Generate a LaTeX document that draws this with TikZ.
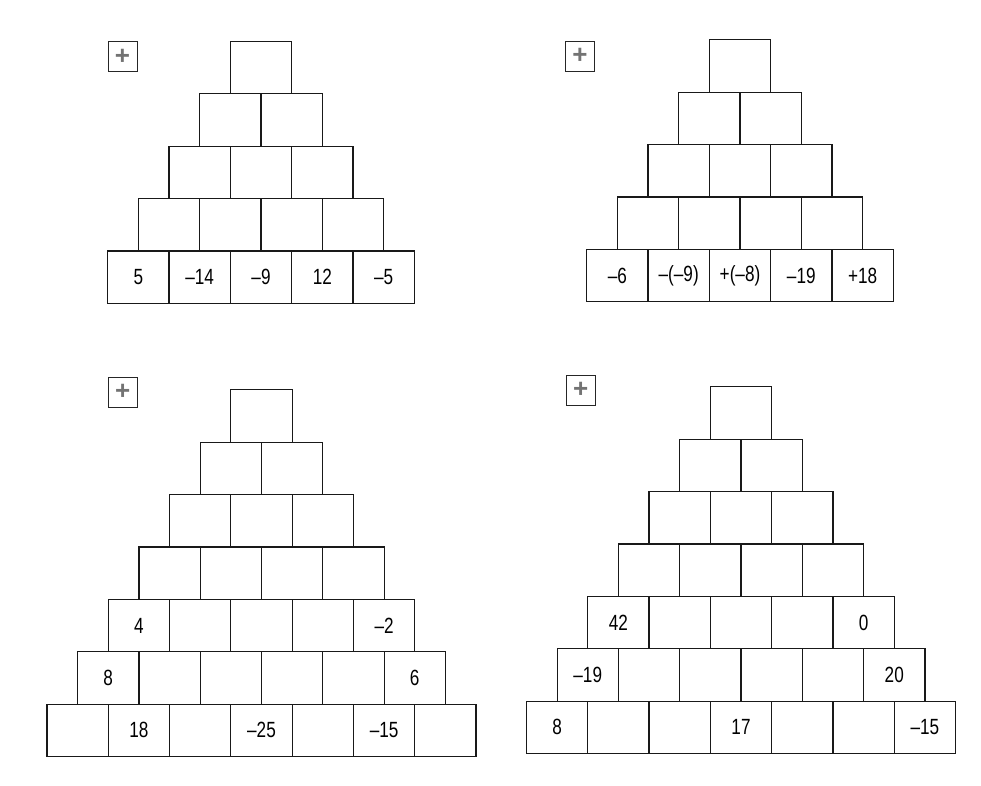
\documentclass[tikz,border=0pt]{standalone}
\usepackage{fontspec}
\setmainfont{Liberation Sans}[FakeStretch=0.78]
\newfontfamily\plusfont{Liberation Sans}
\newcommand\lab[2]{\expandafter\def\csname lab@#1\endcsname{#2}}
\newcommand\getlab[1]{\ifcsname lab@#1\endcsname\csname lab@#1\endcsname\fi}
% pyramid: #1 name, #2 centre x, #3 bottom y, #4 rows
\newcommand\pyr[4]{%
  \foreach \rr in {0,...,\numexpr#4-1\relax}{%
    \pgfmathtruncatemacro\ncols{#4-\rr-1}%
    \foreach \cc in {0,...,\ncols}{%
      \pgfmathsetmacro\xx{#2+(\cc-\ncols/2)*61.3}%
      \pgfmathsetmacro\yy{#3-(\rr+0.5)*52.4}%
      \node[cell] (#1-\rr-\cc) at (\xx,\yy) {\getlab{#1-\rr-\cc}};
    }%
  }%
}
\lab{A-0-0}{5}\lab{A-0-1}{–14}\lab{A-0-2}{–9}\lab{A-0-3}{12}\lab{A-0-4}{–5}
\lab{B-0-0}{–6}\lab{B-0-1}{–(–9)}\lab{B-0-2}{+(–8)}\lab{B-0-3}{–19}\lab{B-0-4}{+18}
\lab{C-0-1}{18}\lab{C-0-3}{–25}\lab{C-0-5}{–15}
\lab{C-1-0}{8}\lab{C-1-5}{6}
\lab{C-2-0}{4}\lab{C-2-4}{–2}
\lab{D-0-0}{8}\lab{D-0-3}{17}\lab{D-0-6}{–15}
\lab{D-1-0}{–19}\lab{D-1-5}{20}
\lab{D-2-0}{42}\lab{D-2-4}{0}
\begin{document}
\begin{tikzpicture}[x=1pt,y=-1pt,
  cell/.style={draw=black!90, line width=1.2pt, minimum width=61.3pt, minimum height=52.4pt,
    inner sep=0pt, anchor=center, font=\fontsize{22}{22}\selectfont},
  opbox/.style={draw=black!85, line width=1pt, minimum width=29pt, minimum height=30pt,
    inner sep=0pt, font=\plusfont\fontsize{26}{26}\selectfont\bfseries, text=black!55}]
\fill[white] (0,0) rectangle (981,785);
\useasboundingbox (0,0) rectangle (981,785);
\pyr{A}{261}{303.3}{5}
\pyr{B}{740}{301.7}{5}
\pyr{C}{261.5}{756.5}{7}
\pyr{D}{741}{753.5}{7}
\node[opbox] (opA) at (122.5,56.7) {+};
\node[opbox] (opB) at (580,56) {+};
\node[opbox] (opC) at (122.7,392) {+};
\node[opbox] (opD) at (580.8,390) {+};
\end{tikzpicture}
\end{document}
